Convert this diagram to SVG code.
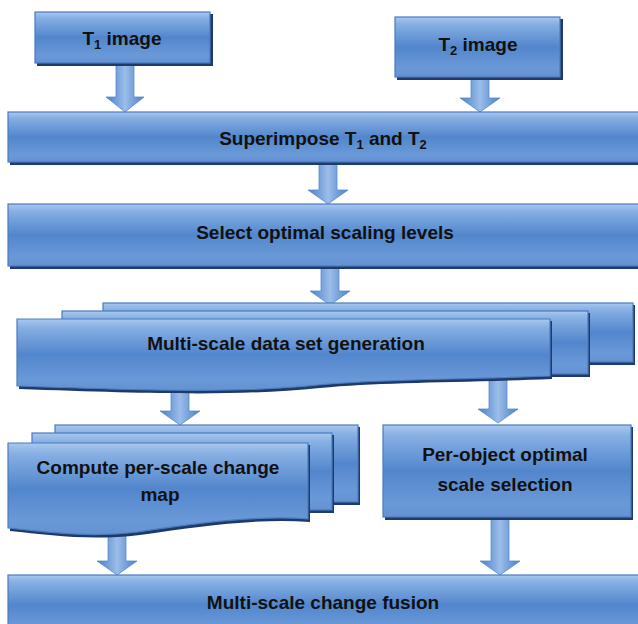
<svg xmlns="http://www.w3.org/2000/svg" width="638" height="624" viewBox="0 0 638 624">
<defs>
<linearGradient id="g" x1="0" y1="0" x2="0" y2="1">
<stop offset="0" stop-color="#a9c8ee"/>
<stop offset="0.12" stop-color="#86afe3"/>
<stop offset="0.5" stop-color="#5286cc"/>
<stop offset="0.85" stop-color="#6a99d8"/>
<stop offset="1" stop-color="#6391d3"/>
</linearGradient>
<linearGradient id="ga" x1="0" y1="0" x2="1" y2="0">
<stop offset="0" stop-color="#4a7ec6"/>
<stop offset="0.5" stop-color="#9bbde9"/>
<stop offset="1" stop-color="#4a7ec6"/>
</linearGradient>
<style>
.box{fill:url(#g);stroke:#4a7bc0;stroke-width:1.2}
.sh{fill:#1f3a68}
.arr{fill:url(#ga);stroke:#5a8acb;stroke-width:0.8}
.t{font-family:"Liberation Sans",Arial,sans-serif;font-weight:bold;font-size:19px;fill:#111;text-anchor:middle}
.sub{font-size:13px}
</style>
</defs>

<g id="connectors">
<path class="arr" d="M116,64 H134 V97 H144 L125,112 L106,97 H116 Z"/>
<path class="arr" d="M471,78 H489 V98 H500 L480,112 L460,98 H471 Z"/>
<path class="arr" d="M319,164 H337 V190 H348 L328,204 L308,190 H319 Z"/>
<path class="arr" d="M321,268 H339 V291 H350 L330,305 L310,291 H321 Z"/>
<path class="arr" d="M171,390 H189 V411 H200 L180,425 L160,411 H171 Z"/>
<path class="arr" d="M489,378 H507 V409 H518 L498,423 L478,409 H489 Z"/>
<path class="arr" d="M108,534 H126 V561 H137 L117,575 L97,561 H108 Z"/>
<path class="arr" d="M491,518 H509 V561 H520 L500,575 L480,561 H491 Z"/>
</g>

<g id="t1">
<rect class="sh" x="37" y="14" width="176" height="52"/>
<rect class="box" x="35" y="12" width="175" height="51"/>
<text class="t" x="122" y="45">T<tspan class="sub" dy="4">1</tspan><tspan dy="-4"> image</tspan></text>
</g>

<g id="t2">
<rect class="sh" x="397" y="19" width="166" height="61"/>
<rect class="box" x="395" y="17" width="165" height="60"/>
<text class="t" x="478" y="51">T<tspan class="sub" dy="4">2</tspan><tspan dy="-4"> image</tspan></text>
</g>

<g id="superimpose">
<rect class="sh" x="10" y="114" width="640" height="51"/>
<rect class="box" x="8" y="112" width="640" height="50"/>
<text class="t" x="323" y="145">Superimpose T<tspan class="sub" dy="4">1</tspan><tspan dy="-4"> and T</tspan><tspan class="sub" dy="4">2</tspan></text>
</g>

<g id="select">
<rect class="sh" x="10" y="206" width="640" height="63"/>
<rect class="box" x="8" y="204" width="640" height="62"/>
<text class="t" x="325" y="239">Select optimal scaling levels</text>
</g>

<g id="multiscale">
<rect class="sh" x="105" y="305" width="530" height="60"/>
<rect class="box" x="103" y="303" width="530" height="59"/>
<rect class="sh" x="64" y="313" width="526" height="64"/>
<rect class="box" x="62" y="311" width="526" height="63"/>
<path class="sh" d="M19,321 H552 V379 C450,383 380,382 320,388 C240,396 160,394 19,389 Z"/>
<path class="box" d="M17,319 H550 V376 C450,380 380,379 318,385 C240,393 160,391 17,386 Z"/>
<text class="t" x="286" y="350">Multi-scale data set generation</text>
</g>

<g id="compute">
<rect class="sh" x="57" y="427" width="303" height="78"/>
<rect class="box" x="55" y="425" width="303" height="77"/>
<rect class="sh" x="34" y="435" width="300" height="78"/>
<rect class="box" x="32" y="433" width="300" height="77"/>
<path class="sh" d="M10,445 H310 V522 C260,518 200,526 140,535 C90,541 50,535 10,531 Z"/>
<path class="box" d="M8,443 H308 V519 C258,515 198,523 138,532 C88,538 48,532 8,528 Z"/>
<text class="t" x="158" y="474">Compute per-scale change</text>
<text class="t" x="160" y="501">map</text>
</g>

<g id="perobject">
<rect class="sh" x="385" y="427" width="248" height="93"/>
<rect class="box" x="383" y="425" width="248" height="92"/>
<text class="t" x="505" y="461">Per-object optimal</text>
<text class="t" x="505" y="491">scale selection</text>
</g>

<g id="fusion">
<rect class="sh" x="10" y="577" width="640" height="60"/>
<rect class="box" x="8" y="575" width="640" height="60"/>
<text class="t" x="323" y="609">Multi-scale change fusion</text>
</g>
</svg>
